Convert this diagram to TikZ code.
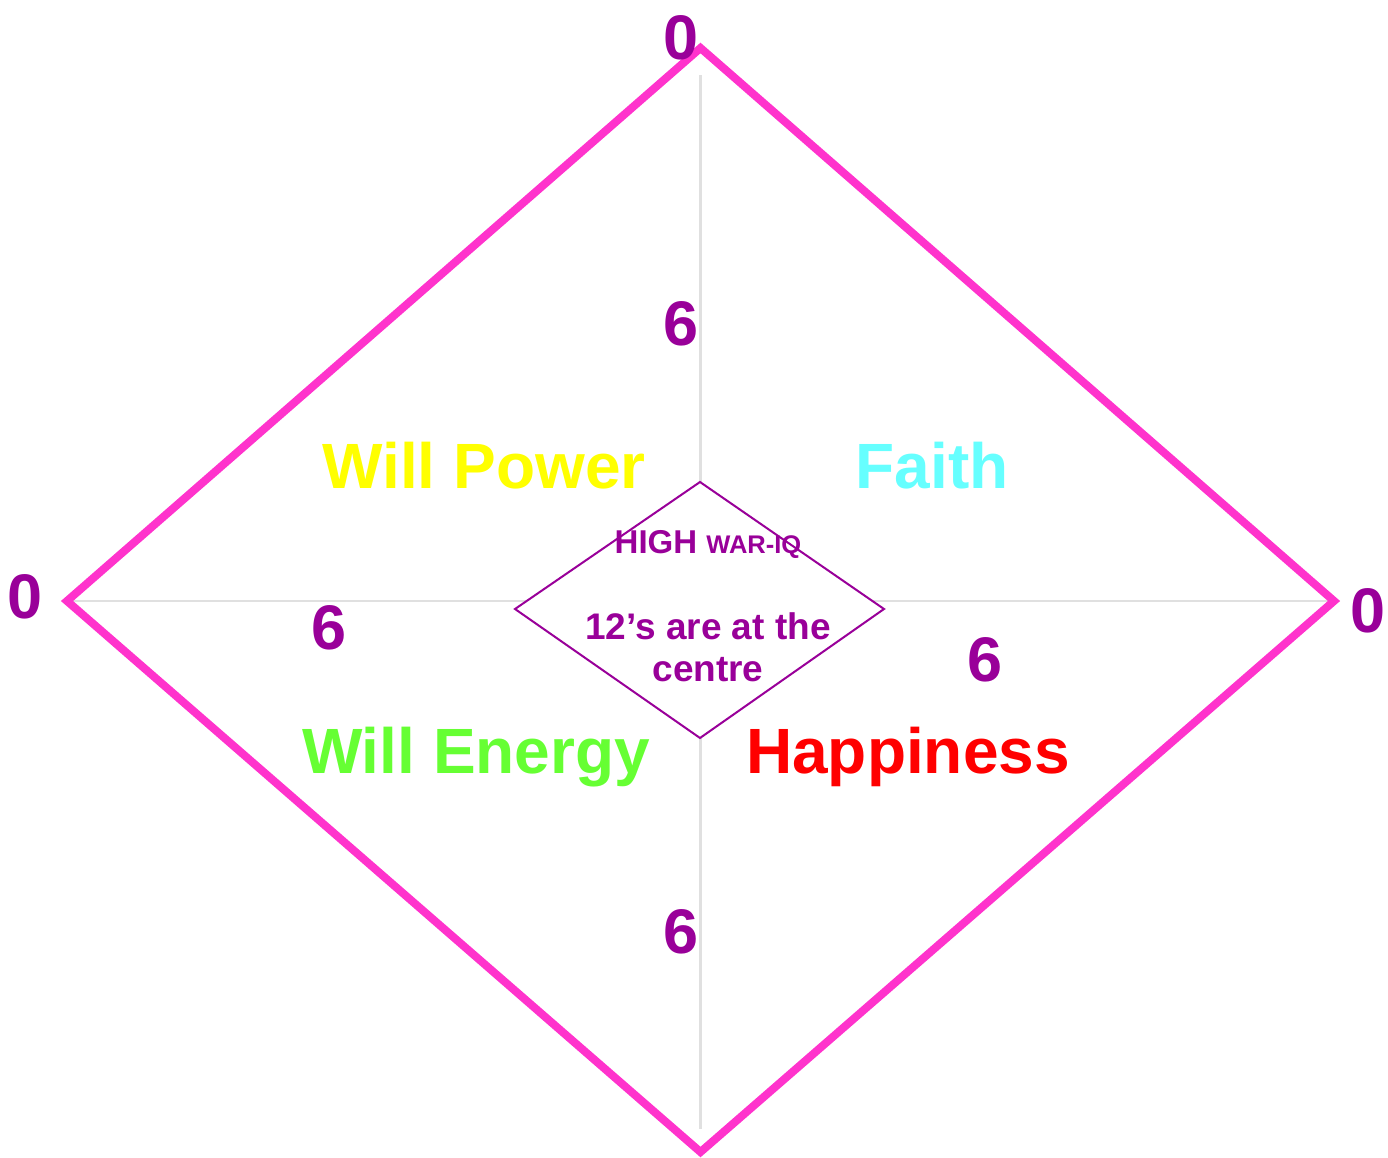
\documentclass[tikz,border=0pt]{standalone}
\usepackage{fontspec}
\setmainfont{Liberation Sans}
\definecolor{rim}{HTML}{FF33CC}
\definecolor{plum}{HTML}{990099}
\definecolor{axisgray}{HTML}{E0E0E0}
\definecolor{wpyellow}{HTML}{FFFF00}
\definecolor{fcyan}{HTML}{66FFFF}
\definecolor{wegreen}{HTML}{66FF33}
\definecolor{hred}{HTML}{FF0000}
\begin{document}
\begin{tikzpicture}[x=1pt,y=-1pt,
  num/.style={text=plum,font=\fontsize{63}{70}\selectfont\bfseries,inner sep=0pt},
  quad/.style={font=\fontsize{64}{70}\selectfont\bfseries,inner sep=0pt},
  centertxt/.style={text=plum,font=\fontsize{37}{42}\selectfont\bfseries,inner sep=0pt,align=center}]
\useasboundingbox (0,0) rectangle (1388,1158);
% corners
\coordinate (T) at (700.5,48);
\coordinate (L) at (67,601);
\coordinate (R) at (1334,601);
\coordinate (B) at (700.5,1152);
\coordinate (At) at (700.5,75);
\coordinate (Ab) at (700.5,1129);
\coordinate (Al) at (67,601);
\coordinate (Ar) at (1330,601);
% axes
\draw[axisgray,line width=2.2pt] (At) -- (Ab);
\draw[axisgray,line width=2.2pt] (Al) -- (Ar);
% outer diamond
\draw[rim,line width=8pt,line join=miter] (T) -- (R) -- (B) -- (L) -- cycle;
% inner diamond
\coordinate (it) at (700,482);
\coordinate (il) at (515,609);
\coordinate (ir) at (884,609);
\coordinate (ib) at (700,738);
\draw[plum,line width=2pt,fill=white,line join=miter] (it) -- (ir) -- (ib) -- (il) -- cycle;
% numbers
\node[num] (n0t) at (681,38) {0};
\node[num] (n0l) at (25,597) {0};
\node[num] (n0r) at (1368,611) {0};
\node[num] (n6t) at (681,324) {6};
\node[num] (n6l) at (329,628) {6};
\node[num] (n6r) at (985,660) {6};
\node[num] (n6b) at (681,932) {6};
% quadrant labels
\node[quad,text=wpyellow] (wp) at (484,466) {Will Power};
\node[quad,text=fcyan] (fa) at (932,466) {Faith};
\node[quad,text=wegreen] (we) at (476,757) {Will Energy};
\node[quad,text=hred] (ha) at (908,757) {Happiness};
% centre text
\node[centertxt,anchor=base] (hi) at (708,553) {\fontsize{33}{38}\selectfont HIGH {\fontsize{25.5}{30}\selectfont WAR-IQ}};
\node[centertxt,anchor=base] (c1) at (708,639) {12’s are at the};
\node[centertxt,anchor=base] (c2) at (708,681) {centre};
\end{tikzpicture}
\end{document}
